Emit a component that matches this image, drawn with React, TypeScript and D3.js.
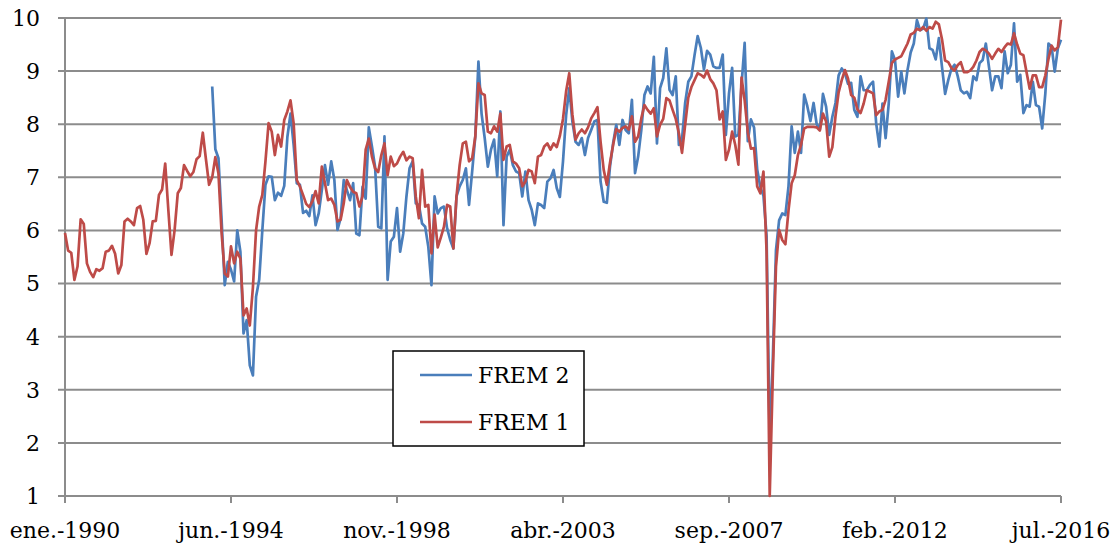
import React from 'react';
import * as d3 from 'd3';

// monthly index 0 = ene.-1990 ... 318 = jul.-2016
const frem1: number[] = [
  5.95, 5.62, 5.58, 5.07, 5.32, 6.21, 6.12, 5.38, 5.22, 5.12,
  5.27, 5.24, 5.29, 5.6, 5.62, 5.71, 5.56, 5.19, 5.35, 6.17,
  6.22, 6.17, 6.1, 6.42, 6.46, 6.2, 5.56, 5.76, 6.17, 6.18,
  6.67, 6.77, 7.26, 6.38, 5.54, 6.01, 6.7, 6.8, 7.23, 7.12,
  7.02, 7.1, 7.34, 7.4, 7.84, 7.34, 6.86, 7.0, 7.38, 7.07,
  5.95, 5.19, 5.13, 5.7, 5.38, 5.6, 5.47, 4.4, 4.53, 4.21,
  4.93, 6.0, 6.45, 6.67, 7.3, 8.02, 7.86, 7.42, 7.8, 7.58,
  8.08, 8.24, 8.45, 8.02, 6.95, 6.83, 6.67, 6.5, 6.44, 6.55,
  6.74, 6.51, 7.2, 6.89, 6.57, 6.6, 6.48, 6.17, 6.2, 6.51,
  6.95, 6.82, 6.73, 6.7, 6.45, 6.64, 7.52, 7.73, 7.39, 7.17,
  7.1, 7.42, 7.64, 7.04, 7.39, 7.21, 7.26, 7.39, 7.48, 7.32,
  7.39, 7.36, 6.64, 6.23, 7.14, 6.45, 6.48, 5.57, 6.3, 5.68,
  5.87, 6.07, 6.48, 6.45, 5.66, 6.64, 7.23, 7.64, 7.67, 7.3,
  7.36, 7.77, 8.77, 8.58, 8.55, 7.86, 7.83, 7.96, 7.86, 8.2,
  7.33, 7.58, 7.61, 7.3, 7.26, 7.17, 6.83, 6.92, 7.14, 7.11,
  6.89, 7.39, 7.42, 7.58, 7.64, 7.52, 7.64, 7.57, 7.78, 8.1,
  8.62, 8.96, 8.18, 7.71, 7.83, 7.9, 7.83, 7.94, 8.11, 8.21,
  8.32, 7.67, 7.14, 6.86, 7.27, 7.61, 7.91, 7.86, 7.93, 7.96,
  7.9, 8.15, 7.67, 7.77, 8.11, 8.36, 8.27, 8.2, 8.3, 7.77,
  7.99, 8.1, 8.49, 8.45, 8.27, 8.1, 7.83, 7.46, 7.99, 8.5,
  8.7, 8.83, 8.96, 8.93, 8.88, 9.01, 8.85, 8.77, 8.64, 8.09,
  8.24, 7.33, 7.52, 7.86, 7.61, 7.24, 8.88, 8.45, 7.85, 7.54,
  7.55, 6.83, 6.7, 7.11, 5.6, 1.0, 3.3, 5.32, 6.01, 5.82,
  5.74, 6.38, 6.89, 7.04, 7.42, 7.61, 7.92, 7.95, 7.95, 7.95,
  7.94, 7.88, 8.2, 8.05, 7.39, 7.57, 8.15, 8.6, 8.83, 9.02,
  8.86, 8.55, 8.5, 8.28, 8.21, 8.39, 8.64, 8.61, 8.58, 8.17,
  8.24, 8.27, 8.46, 8.8, 9.15, 9.22, 9.25, 9.28, 9.4, 9.52,
  9.69, 9.72, 9.8, 9.77, 9.83, 9.76, 9.83, 9.8, 9.93, 9.88,
  9.6, 9.2, 9.17, 9.06, 9.01, 9.11, 9.17, 8.98, 8.98, 9.01,
  9.08, 9.2, 9.36, 9.42, 9.39, 9.33, 9.23, 9.33, 9.42, 9.36,
  9.45, 9.52, 9.5, 9.71, 9.5, 9.33, 9.3, 8.98, 8.67, 8.92,
  8.92, 8.7, 8.7, 8.92, 9.23, 9.48, 9.39, 9.45, 9.97,
];

// FREM 2 begins at month 47 (dic.-1993)
const frem2Start = 47;
const frem2: number[] = [
  8.71, 7.53, 7.36,
  6.2, 4.97, 5.41, 5.26, 5.04, 6.0, 5.6, 4.06, 4.31, 3.46,
  3.27, 4.75, 5.07, 6.0, 6.86, 7.02, 7.01, 6.57, 6.71, 6.65,
  6.84, 7.76, 8.2, 7.61, 6.89, 6.86, 6.33, 6.37, 6.27, 6.66,
  6.1, 6.32, 6.76, 7.23, 6.86, 7.3, 6.95, 6.01, 6.23, 6.95,
  6.76, 6.57, 6.89, 5.94, 5.91, 6.82, 6.6, 7.94, 7.58, 7.2,
  6.07, 6.04, 7.77, 5.07, 5.79, 5.88, 6.42, 5.6, 5.94, 6.63,
  7.17, 7.3, 6.51, 6.48, 6.13, 6.07, 5.69, 4.97, 6.64, 6.32,
  6.42, 6.45, 6.04, 5.82, 5.66, 6.64, 6.83, 6.95, 7.17, 6.48,
  7.11, 7.77, 9.18, 8.2, 7.74, 7.2, 7.52, 7.71, 7.02, 8.24,
  6.1, 7.39, 7.52, 7.23, 7.11, 7.08, 6.64, 7.11, 6.57, 6.39,
  6.1, 6.51, 6.48, 6.42, 6.92, 6.98, 7.14, 6.8, 6.63, 7.3,
  8.17, 8.68, 8.05, 7.67, 7.61, 7.74, 7.42, 7.74, 7.89, 8.05,
  8.08, 6.92, 6.54, 6.52, 7.2, 7.64, 7.99, 7.61, 8.08, 7.89,
  7.83, 8.46, 7.08, 7.39, 7.89, 8.55, 8.71, 8.58, 9.27, 7.64,
  8.68, 8.87, 9.43, 8.65, 8.55, 8.9, 7.61, 7.72, 8.4, 8.8,
  8.9, 9.3, 9.66, 9.44, 9.03, 9.38, 9.31, 9.09, 9.06, 9.06,
  9.31, 7.8, 8.58, 9.06, 7.77, 7.8, 8.74, 9.53, 7.68, 8.09,
  7.94, 7.15, 6.82, 6.65, 5.9, 2.0, 3.6, 5.63, 6.19, 6.32,
  6.29, 6.83, 7.96, 7.46, 7.86, 7.46, 8.56, 8.34, 8.06, 8.4,
  8.0, 7.9, 8.57, 8.33, 7.8, 8.14, 8.4, 8.92, 9.05, 8.96,
  8.76, 8.78, 8.27, 8.14, 8.9, 8.64, 8.64, 8.74, 8.8, 8.01,
  7.58, 8.39, 7.74, 8.39, 9.37, 9.21, 8.52, 8.99, 8.58, 9.02,
  9.35, 9.52, 9.96, 9.77, 9.8, 9.99, 9.43, 9.4, 9.22, 9.62,
  9.08, 8.57, 8.83, 9.04, 9.12, 8.91, 8.64, 8.58, 8.61, 8.49,
  8.9, 8.83, 9.15, 9.21, 9.52, 9.08, 8.64, 8.9, 8.9, 8.68,
  9.37, 8.96, 9.12, 9.9, 8.8, 8.93, 8.21, 8.36, 8.33, 8.8,
  8.36, 8.33, 7.92, 8.58, 9.52, 9.46, 8.99, 9.43, 9.59,
];

const xTickIndex = [0, 53, 106, 159, 212, 265, 318];
const xTickLabels = ['ene.-1990', 'jun.-1994', 'nov.-1998', 'abr.-2003', 'sep.-2007', 'feb.-2012', 'jul.-2016'];
const yTicks = [1, 2, 3, 4, 5, 6, 7, 8, 9, 10];

const seriesNames = ['FREM 2', 'FREM 1'];
const seriesColors = ['#4a7ebb', '#be4b48'];

const W = 1117;
const H = 545;
const font = '"DejaVu Serif", serif';

export default function App() {
  const x = d3.scaleLinear().domain([0, 318]).range([65, 1061]);
  const y = d3.scaleLinear().domain([1, 10]).range([496, 18]);

  const line = d3.line<[number, number]>()
    .x(d => x(d[0]))
    .y(d => y(d[1]));

  const red: [number, number][] = frem1.map((v, i) => [i, v]);
  const blue: [number, number][] = frem2.map((v, i) => [i + frem2Start, v]);

  const gridColor = '#8c8c8c';

  return (
    <svg width={W} height={H} style={{ position: 'absolute', left: 0, top: 0, background: '#fff' }}>
      {/* gridlines + y labels */}
      {yTicks.map(t => (
        <g key={t}>
          <line x1={58} x2={x(318)} y1={y(t)} y2={y(t)} stroke={gridColor} strokeWidth={2} />
          <text x={40} y={y(t)} dy="0.36em" textAnchor="end" fontFamily={font} fontSize={22} fill="#000">{t}</text>
        </g>
      ))}
      {/* axes */}
      <line x1={x(0)} x2={x(0)} y1={y(10)} y2={y(1) + 7} stroke={gridColor} strokeWidth={2} />
      {xTickIndex.map((t, k) => (
        <g key={t}>
          <line x1={x(t)} x2={x(t)} y1={y(1)} y2={y(1) + 7} stroke={gridColor} strokeWidth={2} />
          <text x={x(t)} y={538} textAnchor="middle" fontFamily={font} fontSize={22} fill="#000">{xTickLabels[k]}</text>
        </g>
      ))}

      <path d={line(blue) || ''} fill="none" stroke={seriesColors[0]} strokeWidth={2.7} strokeLinejoin="round" />
      <path d={line(red) || ''} fill="none" stroke={seriesColors[1]} strokeWidth={2.7} strokeLinejoin="round" />

      {/* legend */}
      <g transform="translate(393,351)">
        <rect x={0} y={0} width={191} height={95} fill="#fff" stroke="#000" strokeWidth={1.5} />
        {seriesNames.map((n, k) => (
          <g key={n} transform={`translate(0,${24 + k * 47})`}>
            <line x1={27} x2={79} y1={0} y2={0} stroke={seriesColors[k]} strokeWidth={2.7} />
            <text x={85} y={0} dy="0.36em" fontFamily={font} fontSize={22} fill="#000">{n}</text>
          </g>
        ))}
      </g>
    </svg>
  );
}
